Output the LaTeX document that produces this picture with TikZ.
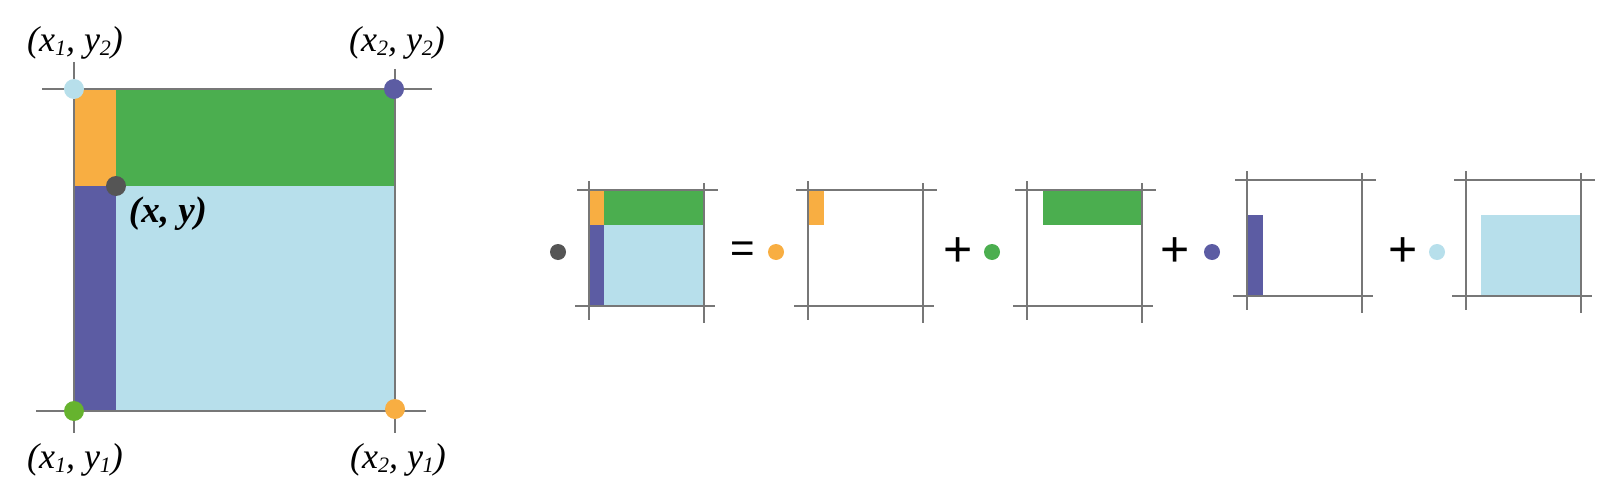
\documentclass[tikz,border=0pt]{standalone}
\usepackage{fontspec}
\setmainfont{Liberation Serif}
\newfontfamily\signfont{Liberation Sans}
\definecolor{cOrange}{HTML}{F8AE42}
\definecolor{cGreen}{HTML}{4BAE4F}
\definecolor{cPurple}{HTML}{5C5CA3}
\definecolor{cBlue}{HTML}{B7DFEB}
\definecolor{cDark}{HTML}{555555}
\definecolor{cGrid}{HTML}{777777}
\definecolor{cLime}{HTML}{66B32E}
\newcommand\lowsub[1]{\raisebox{-0.1em}{\fontsize{22}{22}\selectfont #1}}
\begin{document}
\begin{tikzpicture}[x=1pt,y=-1pt,
  gridline/.style={draw=cGrid,line width=2pt},
  bigdot/.style={circle,inner sep=0pt,minimum size=20pt},
  smalldot/.style={circle,inner sep=0pt,minimum size=16pt},
  coordlabel/.style={font=\fontsize{36}{40}\selectfont\itshape,inner sep=0pt},
  signlabel/.style={font=\fontsize{42}{42}\selectfont\signfont,inner sep=0pt},
  gridbox/.pic={
    \draw[gridline] (0,-9) -- (0,130);
    \draw[gridline] (115,-7) -- (115,133);
    \draw[gridline] (-12,0) -- (129,0);
    \draw[gridline] (-14,116) -- (126,116);
  }]
\useasboundingbox (0,0) rectangle (1600,500);

% ---- large diagram ----
\fill[cOrange] (74,89) rectangle (116,186);
\fill[cGreen] (116,89) rectangle (395,186);
\fill[cPurple] (74,186) rectangle (116,411);
\fill[cBlue] (116,186) rectangle (395,411);
\draw[gridline] (74,62) -- (74,433);
\draw[gridline] (395,69) -- (395,433);
\draw[gridline] (42,89) -- (432,89);
\draw[gridline] (36,411) -- (426,411);

\node[bigdot,fill=cBlue] (p12) at (74,89) {};
\node[bigdot,fill=cPurple] (p22) at (394,89) {};
\node[bigdot,fill=cLime] (p11) at (74,411) {};
\node[bigdot,fill=cOrange] (p21) at (395,409) {};
\node[bigdot,fill=cDark] (pxy) at (116,186) {};

\node[coordlabel] (l12) at (75,43) {(x\lowsub{1}, y\lowsub{2})};
\node[coordlabel] (l22) at (397,43) {(x\lowsub{2}, y\lowsub{2})};
\node[coordlabel] (l11) at (75,460) {(x\lowsub{1}, y\lowsub{1})};
\node[coordlabel] (l21) at (398,460) {(x\lowsub{2}, y\lowsub{1})};
\node[coordlabel,font=\fontsize{37}{40}\selectfont\bfseries\itshape] (lxy) at (168,214) {(x, y)};

% ---- equation ----
\node[smalldot,fill=cDark] (d0) at (558,252) {};
% box A
\fill[cOrange] (589,190) rectangle (604,225);
\fill[cGreen] (604,190) rectangle (704,225);
\fill[cPurple] (589,225) rectangle (604,306);
\fill[cBlue] (604,225) rectangle (704,306);
\pic at (589,190) {gridbox};

\node[signlabel] (eq) at (743,252) {=};
\node[smalldot,fill=cOrange] (d1) at (776,252) {};
% box B
\fill[cOrange] (808,190) rectangle (824,225);
\pic at (808,190) {gridbox};

\node[signlabel,font=\fontsize{50}{50}\selectfont\signfont] (plus1) at (958,252) {+};
\node[smalldot,fill=cGreen] (d2) at (992,252) {};
% box C
\fill[cGreen] (1043,190) rectangle (1143,225);
\pic at (1027,190) {gridbox};

\node[signlabel,font=\fontsize{50}{50}\selectfont\signfont] (plus2) at (1175,252) {+};
\node[smalldot,fill=cPurple] (d3) at (1212,252) {};
% box D
\fill[cPurple] (1247,215) rectangle (1263,296);
\pic at (1247,180) {gridbox};

\node[signlabel,font=\fontsize{50}{50}\selectfont\signfont] (plus3) at (1403,252) {+};
\node[smalldot,fill=cBlue] (d4) at (1437,252) {};
% box E
\fill[cBlue] (1481,215) rectangle (1582,296);
\pic at (1466,180) {gridbox};
\end{tikzpicture}
\end{document}
